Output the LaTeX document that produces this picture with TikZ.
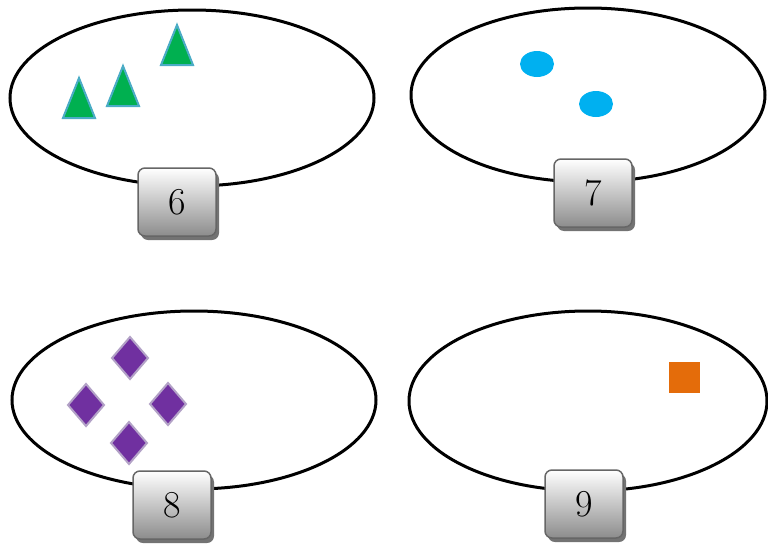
\documentclass[tikz,border=0pt]{standalone}
\usetikzlibrary{shapes.geometric,shadows}
\definecolor{trifill}{HTML}{00B050}
\definecolor{tristroke}{HTML}{4BACC6}
\definecolor{dotfill}{HTML}{00B0F0}
\definecolor{diafill}{HTML}{7030A0}
\definecolor{diastroke}{HTML}{B3A2C7}
\definecolor{sqfill}{HTML}{E46C0A}
\begin{document}
\begin{tikzpicture}[x=1pt,y=-1pt,
  setshape/.style={draw=black,line width=3pt,fill=none},
  numbox/.style={draw=black!60,line width=1.5pt,rounded corners=7pt,minimum width=78pt,minimum height=68pt,
    top color=white,bottom color=black!45,inner sep=0pt,font=\fontsize{38}{38}\selectfont,
    drop shadow={shadow xshift=3pt,shadow yshift=-4pt,fill=black!55,opacity=1}},
  tri/.style={fill=trifill,draw=tristroke,line width=2pt},
  dot/.style={fill=dotfill,draw=none},
  dia/.style={fill=diafill,draw=diastroke,line width=2pt},
  sq/.style={fill=sqfill,draw=none}]
\useasboundingbox (0,0) rectangle (768,546);
% sets
\draw[setshape] (192,98) ellipse [x radius=182,y radius=88];
\draw[setshape] (588,95) ellipse [x radius=177,y radius=87];
\draw[setshape] (194,400) ellipse [x radius=182,y radius=89];
\draw[setshape] (588,401) ellipse [x radius=179,y radius=90];
% triangles
\draw[tri] (79,78) -- (95,118) -- (63,118) -- cycle;
\draw[tri] (123,66) -- (139,106) -- (107,106) -- cycle;
\draw[tri] (177,25) -- (193,65) -- (161,65) -- cycle;
% dots
\fill[dot] (537,64) ellipse [x radius=17,y radius=13];
\fill[dot] (596,104) ellipse [x radius=17,y radius=13];
% diamonds
\foreach \cx/\cy in {130/358,86/405,168/404,129/443}
  \draw[dia] (\cx,\cy-21) -- (\cx+18,\cy) -- (\cx,\cy+21) -- (\cx-18,\cy) -- cycle;
% square
\fill[sq] (669,362) rectangle (700,393);
% number boxes
\node[numbox] (n6) at (177,202) {6};
\node[numbox] (n7) at (593,193) {7};
\node[numbox] (n8) at (172,505) {8};
\node[numbox] (n9) at (584,504) {9};
\end{tikzpicture}
\end{document}
